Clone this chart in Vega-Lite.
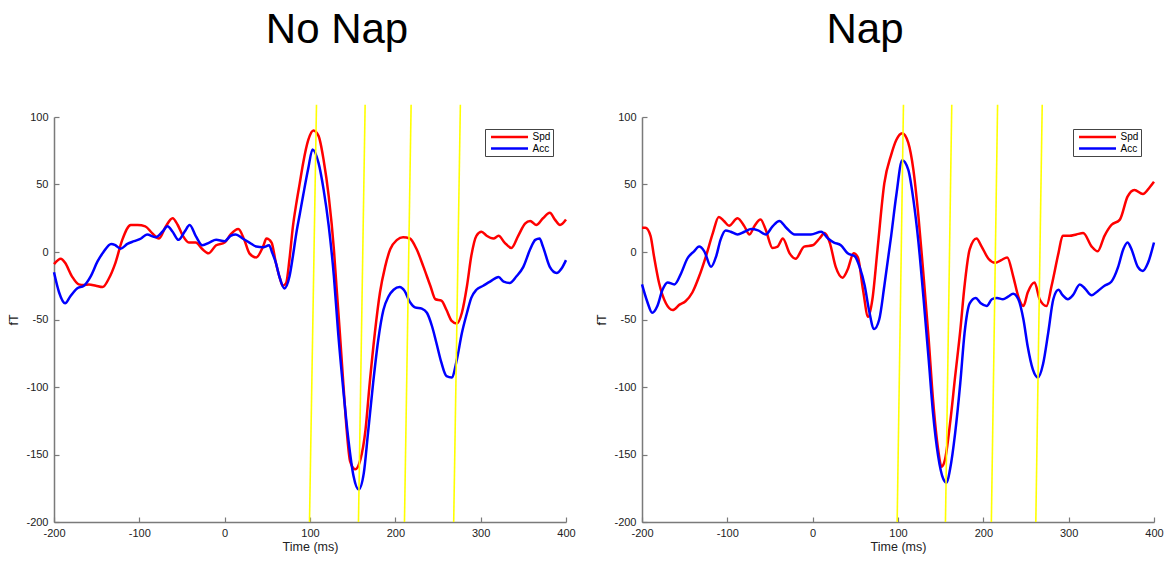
{
  "$schema": "https://vega.github.io/schema/vega-lite/v6.json",
  "padding": {"left": 7, "top": 9, "right": 5, "bottom": 5},
  "background": "white",
  "spacing": 19,
  "config": {
    "view": {"stroke": null},
    "font": "Liberation Sans",
    "axis": {
      "grid": false,
      "domainColor": "#7a7a7a",
      "domainWidth": 1.5,
      "tickColor": "#7a7a7a",
      "tickWidth": 1.2,
      "tickSize": -5,
      "labelFont": "Liberation Sans",
      "labelFontSize": 11,
      "labelColor": "#222222",
      "titleFont": "Liberation Sans",
      "titleFontSize": 12.5,
      "titleFontWeight": "normal",
      "titleColor": "#222222",
      "labelFlush": false,
      "labelOverlap": false
    },
    "axisX": {"labelPadding": 10, "titlePadding": 2},
    "axisY": {"labelPadding": 11, "titlePadding": 5},
    "title": {"font": "Liberation Sans", "fontSize": 42, "fontWeight": "normal", "color": "#000000"}
  },
  "resolve": {"scale": {"color": "independent"}, "legend": {"color": "independent"}},
  "datasets": {
    "curves": [
      {"panel":"L","series":"Spd","t":-200,"v":-9},{"panel":"L","series":"Spd","t":-192,"v":-5},{"panel":"L","series":"Spd","t":-187,"v":-8},{"panel":"L","series":"Spd","t":-179,"v":-18},{"panel":"L","series":"Spd","t":-171,"v":-24},{"panel":"L","series":"Spd","t":-165,"v":-24.5},{"panel":"L","series":"Spd","t":-159,"v":-24},{"panel":"L","series":"Spd","t":-151,"v":-25},{"panel":"L","series":"Spd","t":-143,"v":-26},{"panel":"L","series":"Spd","t":-136,"v":-20},{"panel":"L","series":"Spd","t":-128,"v":-8},{"panel":"L","series":"Spd","t":-120,"v":9},{"panel":"L","series":"Spd","t":-110,"v":20},{"panel":"L","series":"Spd","t":-102,"v":20},{"panel":"L","series":"Spd","t":-93,"v":19},{"panel":"L","series":"Spd","t":-85,"v":14},{"panel":"L","series":"Spd","t":-77,"v":10},{"panel":"L","series":"Spd","t":-69,"v":19},{"panel":"L","series":"Spd","t":-61,"v":25},{"panel":"L","series":"Spd","t":-55,"v":20},{"panel":"L","series":"Spd","t":-49,"v":12},{"panel":"L","series":"Spd","t":-42,"v":7},{"panel":"L","series":"Spd","t":-34,"v":7},{"panel":"L","series":"Spd","t":-26,"v":2},{"panel":"L","series":"Spd","t":-19,"v":-1},{"panel":"L","series":"Spd","t":-10,"v":5},{"panel":"L","series":"Spd","t":0,"v":7},{"panel":"L","series":"Spd","t":7,"v":13},{"panel":"L","series":"Spd","t":16,"v":17},{"panel":"L","series":"Spd","t":23,"v":9},{"panel":"L","series":"Spd","t":29,"v":-1},{"panel":"L","series":"Spd","t":37,"v":-4},{"panel":"L","series":"Spd","t":45,"v":4},{"panel":"L","series":"Spd","t":49,"v":10},{"panel":"L","series":"Spd","t":55,"v":7},{"panel":"L","series":"Spd","t":60,"v":-8},{"panel":"L","series":"Spd","t":65,"v":-20},{"panel":"L","series":"Spd","t":68,"v":-25},{"panel":"L","series":"Spd","t":72,"v":-23},{"panel":"L","series":"Spd","t":76,"v":-5},{"panel":"L","series":"Spd","t":80,"v":19},{"panel":"L","series":"Spd","t":84,"v":36},{"panel":"L","series":"Spd","t":88,"v":51},{"panel":"L","series":"Spd","t":92,"v":66},{"panel":"L","series":"Spd","t":98,"v":83},{"panel":"L","series":"Spd","t":104,"v":90},{"panel":"L","series":"Spd","t":110,"v":86},{"panel":"L","series":"Spd","t":116,"v":68},{"panel":"L","series":"Spd","t":122,"v":41},{"panel":"L","series":"Spd","t":128,"v":2},{"panel":"L","series":"Spd","t":131,"v":-25},{"panel":"L","series":"Spd","t":135,"v":-60},{"panel":"L","series":"Spd","t":139,"v":-97},{"panel":"L","series":"Spd","t":143,"v":-132},{"panel":"L","series":"Spd","t":147,"v":-155},{"panel":"L","series":"Spd","t":153,"v":-161},{"panel":"L","series":"Spd","t":159,"v":-154},{"panel":"L","series":"Spd","t":165,"v":-132},{"panel":"L","series":"Spd","t":170,"v":-97},{"panel":"L","series":"Spd","t":176,"v":-60},{"panel":"L","series":"Spd","t":182,"v":-30},{"panel":"L","series":"Spd","t":188,"v":-11},{"panel":"L","series":"Spd","t":194,"v":2},{"panel":"L","series":"Spd","t":202,"v":9},{"panel":"L","series":"Spd","t":209,"v":11},{"panel":"L","series":"Spd","t":217,"v":10},{"panel":"L","series":"Spd","t":225,"v":2},{"panel":"L","series":"Spd","t":233,"v":-11},{"panel":"L","series":"Spd","t":241,"v":-25},{"panel":"L","series":"Spd","t":247,"v":-35},{"panel":"L","series":"Spd","t":254,"v":-36},{"panel":"L","series":"Spd","t":260,"v":-43},{"panel":"L","series":"Spd","t":266,"v":-51},{"panel":"L","series":"Spd","t":272,"v":-53},{"panel":"L","series":"Spd","t":278,"v":-45},{"panel":"L","series":"Spd","t":284,"v":-25},{"panel":"L","series":"Spd","t":289,"v":-3},{"panel":"L","series":"Spd","t":295,"v":12},{"panel":"L","series":"Spd","t":301,"v":15},{"panel":"L","series":"Spd","t":307,"v":12},{"panel":"L","series":"Spd","t":315,"v":10},{"panel":"L","series":"Spd","t":321,"v":12},{"panel":"L","series":"Spd","t":328,"v":7},{"panel":"L","series":"Spd","t":336,"v":3},{"panel":"L","series":"Spd","t":344,"v":12},{"panel":"L","series":"Spd","t":352,"v":21},{"panel":"L","series":"Spd","t":358,"v":23},{"panel":"L","series":"Spd","t":365,"v":20},{"panel":"L","series":"Spd","t":373,"v":25},{"panel":"L","series":"Spd","t":381,"v":29},{"panel":"L","series":"Spd","t":387,"v":24},{"panel":"L","series":"Spd","t":393,"v":20},{"panel":"L","series":"Spd","t":400,"v":24},
      {"panel":"L","series":"Acc","t":-200,"v":-15},{"panel":"L","series":"Acc","t":-194,"v":-30},{"panel":"L","series":"Acc","t":-187,"v":-38},{"panel":"L","series":"Acc","t":-181,"v":-33},{"panel":"L","series":"Acc","t":-173,"v":-27},{"panel":"L","series":"Acc","t":-165,"v":-25},{"panel":"L","series":"Acc","t":-157,"v":-18},{"panel":"L","series":"Acc","t":-149,"v":-7},{"panel":"L","series":"Acc","t":-142,"v":0},{"panel":"L","series":"Acc","t":-133,"v":6},{"panel":"L","series":"Acc","t":-128,"v":5},{"panel":"L","series":"Acc","t":-122,"v":2.5},{"panel":"L","series":"Acc","t":-114,"v":6},{"panel":"L","series":"Acc","t":-106,"v":8},{"panel":"L","series":"Acc","t":-98,"v":10},{"panel":"L","series":"Acc","t":-91,"v":13},{"panel":"L","series":"Acc","t":-81,"v":11},{"panel":"L","series":"Acc","t":-73,"v":15},{"panel":"L","series":"Acc","t":-67,"v":19},{"panel":"L","series":"Acc","t":-61,"v":15},{"panel":"L","series":"Acc","t":-54,"v":9},{"panel":"L","series":"Acc","t":-47,"v":15},{"panel":"L","series":"Acc","t":-41,"v":20},{"panel":"L","series":"Acc","t":-34,"v":12},{"panel":"L","series":"Acc","t":-26,"v":5},{"panel":"L","series":"Acc","t":-18,"v":7},{"panel":"L","series":"Acc","t":-10,"v":9},{"panel":"L","series":"Acc","t":0,"v":8},{"panel":"L","series":"Acc","t":7,"v":12},{"panel":"L","series":"Acc","t":13,"v":13},{"panel":"L","series":"Acc","t":21,"v":10},{"panel":"L","series":"Acc","t":29,"v":7},{"panel":"L","series":"Acc","t":37,"v":4},{"panel":"L","series":"Acc","t":45,"v":3.5},{"panel":"L","series":"Acc","t":52,"v":5},{"panel":"L","series":"Acc","t":56,"v":-1},{"panel":"L","series":"Acc","t":60,"v":-8},{"panel":"L","series":"Acc","t":64,"v":-18},{"panel":"L","series":"Acc","t":70,"v":-27},{"panel":"L","series":"Acc","t":76,"v":-18},{"panel":"L","series":"Acc","t":80,"v":-3},{"panel":"L","series":"Acc","t":84,"v":14},{"panel":"L","series":"Acc","t":88,"v":28},{"panel":"L","series":"Acc","t":92,"v":42},{"panel":"L","series":"Acc","t":98,"v":62},{"panel":"L","series":"Acc","t":103,"v":76},{"panel":"L","series":"Acc","t":110,"v":66},{"panel":"L","series":"Acc","t":116,"v":46},{"panel":"L","series":"Acc","t":122,"v":19},{"panel":"L","series":"Acc","t":128,"v":-18},{"panel":"L","series":"Acc","t":133,"v":-60},{"panel":"L","series":"Acc","t":139,"v":-102},{"panel":"L","series":"Acc","t":145,"v":-139},{"panel":"L","series":"Acc","t":151,"v":-166},{"panel":"L","series":"Acc","t":157,"v":-176},{"panel":"L","series":"Acc","t":163,"v":-164},{"panel":"L","series":"Acc","t":168,"v":-134},{"panel":"L","series":"Acc","t":174,"v":-97},{"panel":"L","series":"Acc","t":180,"v":-65},{"panel":"L","series":"Acc","t":186,"v":-43},{"panel":"L","series":"Acc","t":192,"v":-33},{"panel":"L","series":"Acc","t":198,"v":-28},{"panel":"L","series":"Acc","t":205,"v":-26},{"panel":"L","series":"Acc","t":211,"v":-29},{"panel":"L","series":"Acc","t":217,"v":-37},{"panel":"L","series":"Acc","t":223,"v":-41},{"panel":"L","series":"Acc","t":231,"v":-42},{"panel":"L","series":"Acc","t":237,"v":-45},{"panel":"L","series":"Acc","t":243,"v":-55},{"panel":"L","series":"Acc","t":248,"v":-67},{"panel":"L","series":"Acc","t":254,"v":-82},{"panel":"L","series":"Acc","t":260,"v":-92},{"panel":"L","series":"Acc","t":266,"v":-93},{"panel":"L","series":"Acc","t":272,"v":-80},{"panel":"L","series":"Acc","t":278,"v":-60},{"panel":"L","series":"Acc","t":284,"v":-45},{"panel":"L","series":"Acc","t":289,"v":-34},{"panel":"L","series":"Acc","t":295,"v":-28},{"panel":"L","series":"Acc","t":303,"v":-25},{"panel":"L","series":"Acc","t":311,"v":-22},{"panel":"L","series":"Acc","t":321,"v":-18.5},{"panel":"L","series":"Acc","t":327,"v":-22},{"panel":"L","series":"Acc","t":334,"v":-23},{"panel":"L","series":"Acc","t":342,"v":-18},{"panel":"L","series":"Acc","t":350,"v":-11},{"panel":"L","series":"Acc","t":358,"v":2},{"panel":"L","series":"Acc","t":364,"v":9},{"panel":"L","series":"Acc","t":369,"v":10},{"panel":"L","series":"Acc","t":373,"v":4},{"panel":"L","series":"Acc","t":381,"v":-11},{"panel":"L","series":"Acc","t":389,"v":-15.5},{"panel":"L","series":"Acc","t":395,"v":-12},{"panel":"L","series":"Acc","t":400,"v":-6},
      {"panel":"R","series":"Spd","t":-200,"v":18},{"panel":"R","series":"Spd","t":-196,"v":18},{"panel":"R","series":"Spd","t":-190,"v":12},{"panel":"R","series":"Spd","t":-186,"v":-3},{"panel":"R","series":"Spd","t":-180,"v":-23},{"panel":"R","series":"Spd","t":-172,"v":-38},{"panel":"R","series":"Spd","t":-164,"v":-43},{"panel":"R","series":"Spd","t":-156,"v":-39},{"panel":"R","series":"Spd","t":-149,"v":-36.5},{"panel":"R","series":"Spd","t":-141,"v":-30},{"panel":"R","series":"Spd","t":-133,"v":-18},{"panel":"R","series":"Spd","t":-125,"v":-3},{"panel":"R","series":"Spd","t":-117,"v":14},{"panel":"R","series":"Spd","t":-110,"v":26},{"panel":"R","series":"Spd","t":-104,"v":23},{"panel":"R","series":"Spd","t":-98,"v":19.5},{"panel":"R","series":"Spd","t":-88,"v":25},{"panel":"R","series":"Spd","t":-80,"v":19},{"panel":"R","series":"Spd","t":-74,"v":13},{"panel":"R","series":"Spd","t":-68,"v":19.5},{"panel":"R","series":"Spd","t":-61,"v":24},{"panel":"R","series":"Spd","t":-55,"v":16.5},{"panel":"R","series":"Spd","t":-47,"v":3},{"panel":"R","series":"Spd","t":-41,"v":4},{"panel":"R","series":"Spd","t":-35,"v":10},{"panel":"R","series":"Spd","t":-27,"v":-1},{"panel":"R","series":"Spd","t":-20,"v":-5},{"panel":"R","series":"Spd","t":-10,"v":4},{"panel":"R","series":"Spd","t":0,"v":5},{"panel":"R","series":"Spd","t":8,"v":10},{"panel":"R","series":"Spd","t":14,"v":14},{"panel":"R","series":"Spd","t":20,"v":7},{"panel":"R","series":"Spd","t":27,"v":-11},{"panel":"R","series":"Spd","t":35,"v":-19},{"panel":"R","series":"Spd","t":41,"v":-13},{"panel":"R","series":"Spd","t":48,"v":-1},{"panel":"R","series":"Spd","t":53,"v":-4},{"panel":"R","series":"Spd","t":59,"v":-28},{"panel":"R","series":"Spd","t":65,"v":-48},{"panel":"R","series":"Spd","t":70,"v":-35},{"panel":"R","series":"Spd","t":76,"v":2},{"panel":"R","series":"Spd","t":84,"v":51},{"panel":"R","series":"Spd","t":92,"v":72},{"panel":"R","series":"Spd","t":98,"v":83},{"panel":"R","series":"Spd","t":105,"v":88},{"panel":"R","series":"Spd","t":112,"v":81},{"panel":"R","series":"Spd","t":118,"v":61},{"panel":"R","series":"Spd","t":124,"v":26},{"panel":"R","series":"Spd","t":130,"v":-18},{"panel":"R","series":"Spd","t":136,"v":-65},{"panel":"R","series":"Spd","t":141,"v":-109},{"panel":"R","series":"Spd","t":147,"v":-146},{"panel":"R","series":"Spd","t":151,"v":-159},{"panel":"R","series":"Spd","t":155,"v":-154},{"panel":"R","series":"Spd","t":161,"v":-127},{"panel":"R","series":"Spd","t":167,"v":-92},{"panel":"R","series":"Spd","t":173,"v":-58},{"panel":"R","series":"Spd","t":178,"v":-25},{"panel":"R","series":"Spd","t":184,"v":2},{"panel":"R","series":"Spd","t":192,"v":10},{"panel":"R","series":"Spd","t":198,"v":4},{"panel":"R","series":"Spd","t":206,"v":-5},{"panel":"R","series":"Spd","t":214,"v":-8},{"panel":"R","series":"Spd","t":221,"v":-6},{"panel":"R","series":"Spd","t":228,"v":-4},{"panel":"R","series":"Spd","t":235,"v":-18},{"panel":"R","series":"Spd","t":241,"v":-33},{"panel":"R","series":"Spd","t":247,"v":-40},{"panel":"R","series":"Spd","t":252,"v":-30},{"panel":"R","series":"Spd","t":260,"v":-22.5},{"panel":"R","series":"Spd","t":266,"v":-35},{"panel":"R","series":"Spd","t":274,"v":-40},{"panel":"R","series":"Spd","t":280,"v":-25},{"panel":"R","series":"Spd","t":288,"v":-1},{"panel":"R","series":"Spd","t":293,"v":12},{"panel":"R","series":"Spd","t":301,"v":12},{"panel":"R","series":"Spd","t":309,"v":13},{"panel":"R","series":"Spd","t":317,"v":14},{"panel":"R","series":"Spd","t":327,"v":4},{"panel":"R","series":"Spd","t":334,"v":0.5},{"panel":"R","series":"Spd","t":342,"v":12},{"panel":"R","series":"Spd","t":350,"v":20},{"panel":"R","series":"Spd","t":360,"v":24},{"panel":"R","series":"Spd","t":369,"v":41},{"panel":"R","series":"Spd","t":377,"v":46},{"panel":"R","series":"Spd","t":387,"v":43},{"panel":"R","series":"Spd","t":395,"v":48},{"panel":"R","series":"Spd","t":400,"v":52},
      {"panel":"R","series":"Acc","t":-200,"v":-24},{"panel":"R","series":"Acc","t":-194,"v":-36.5},{"panel":"R","series":"Acc","t":-188,"v":-45},{"panel":"R","series":"Acc","t":-182,"v":-40},{"panel":"R","series":"Acc","t":-176,"v":-28},{"panel":"R","series":"Acc","t":-170,"v":-22.5},{"panel":"R","series":"Acc","t":-162,"v":-24},{"panel":"R","series":"Acc","t":-154,"v":-15.5},{"panel":"R","series":"Acc","t":-147,"v":-5},{"panel":"R","series":"Acc","t":-139,"v":0.5},{"panel":"R","series":"Acc","t":-133,"v":4},{"panel":"R","series":"Acc","t":-127,"v":0.5},{"panel":"R","series":"Acc","t":-119,"v":-11},{"panel":"R","series":"Acc","t":-113,"v":-3},{"panel":"R","series":"Acc","t":-108,"v":9},{"panel":"R","series":"Acc","t":-102,"v":16},{"panel":"R","series":"Acc","t":-96,"v":15},{"panel":"R","series":"Acc","t":-88,"v":13},{"panel":"R","series":"Acc","t":-80,"v":15},{"panel":"R","series":"Acc","t":-72,"v":17},{"panel":"R","series":"Acc","t":-64,"v":16},{"panel":"R","series":"Acc","t":-55,"v":13},{"panel":"R","series":"Acc","t":-47,"v":19},{"panel":"R","series":"Acc","t":-39,"v":23},{"panel":"R","series":"Acc","t":-31,"v":18},{"panel":"R","series":"Acc","t":-21,"v":13},{"panel":"R","series":"Acc","t":-12,"v":13},{"panel":"R","series":"Acc","t":-2,"v":13},{"panel":"R","series":"Acc","t":10,"v":15},{"panel":"R","series":"Acc","t":18,"v":10},{"panel":"R","series":"Acc","t":25,"v":7},{"panel":"R","series":"Acc","t":33,"v":5},{"panel":"R","series":"Acc","t":41,"v":-1},{"panel":"R","series":"Acc","t":49,"v":-3},{"panel":"R","series":"Acc","t":55,"v":-11},{"panel":"R","series":"Acc","t":61,"v":-25},{"panel":"R","series":"Acc","t":66,"v":-43},{"panel":"R","series":"Acc","t":72,"v":-57},{"panel":"R","series":"Acc","t":78,"v":-50},{"panel":"R","series":"Acc","t":84,"v":-25},{"panel":"R","series":"Acc","t":92,"v":12},{"panel":"R","series":"Acc","t":98,"v":42},{"panel":"R","series":"Acc","t":105,"v":68},{"panel":"R","series":"Acc","t":112,"v":61},{"panel":"R","series":"Acc","t":118,"v":39},{"panel":"R","series":"Acc","t":124,"v":7},{"panel":"R","series":"Acc","t":130,"v":-35},{"panel":"R","series":"Acc","t":136,"v":-80},{"panel":"R","series":"Acc","t":141,"v":-119},{"panel":"R","series":"Acc","t":147,"v":-151},{"panel":"R","series":"Acc","t":153,"v":-168},{"panel":"R","series":"Acc","t":157,"v":-171},{"panel":"R","series":"Acc","t":161,"v":-161},{"panel":"R","series":"Acc","t":167,"v":-134},{"panel":"R","series":"Acc","t":173,"v":-97},{"panel":"R","series":"Acc","t":178,"v":-60},{"panel":"R","series":"Acc","t":184,"v":-38},{"panel":"R","series":"Acc","t":191,"v":-34},{"panel":"R","series":"Acc","t":197,"v":-38},{"panel":"R","series":"Acc","t":204,"v":-40},{"panel":"R","series":"Acc","t":210,"v":-35},{"panel":"R","series":"Acc","t":216,"v":-34},{"panel":"R","series":"Acc","t":223,"v":-35},{"panel":"R","series":"Acc","t":229,"v":-33},{"panel":"R","series":"Acc","t":235,"v":-31},{"panel":"R","series":"Acc","t":241,"v":-35},{"panel":"R","series":"Acc","t":247,"v":-50},{"panel":"R","series":"Acc","t":252,"v":-70},{"panel":"R","series":"Acc","t":258,"v":-87},{"panel":"R","series":"Acc","t":264,"v":-93},{"panel":"R","series":"Acc","t":270,"v":-83},{"panel":"R","series":"Acc","t":276,"v":-60},{"panel":"R","series":"Acc","t":282,"v":-35},{"panel":"R","series":"Acc","t":288,"v":-28},{"panel":"R","series":"Acc","t":293,"v":-32},{"panel":"R","series":"Acc","t":299,"v":-35},{"panel":"R","series":"Acc","t":305,"v":-32},{"panel":"R","series":"Acc","t":313,"v":-24},{"panel":"R","series":"Acc","t":319,"v":-27},{"panel":"R","series":"Acc","t":327,"v":-32},{"panel":"R","series":"Acc","t":334,"v":-29},{"panel":"R","series":"Acc","t":342,"v":-25},{"panel":"R","series":"Acc","t":350,"v":-22},{"panel":"R","series":"Acc","t":358,"v":-11},{"panel":"R","series":"Acc","t":364,"v":2},{"panel":"R","series":"Acc","t":369,"v":7},{"panel":"R","series":"Acc","t":373,"v":3},{"panel":"R","series":"Acc","t":381,"v":-11},{"panel":"R","series":"Acc","t":387,"v":-14},{"panel":"R","series":"Acc","t":393,"v":-8},{"panel":"R","series":"Acc","t":400,"v":7}
    ],
    "yellow": [
      {"panel":"L","t0":99.4,"t1":107.6,"v0":-200,"v1":109},
      {"panel":"L","t0":156.8,"t1":164.6,"v0":-200,"v1":109},
      {"panel":"L","t0":210.7,"t1":218.5,"v0":-200,"v1":109},
      {"panel":"L","t0":268.4,"t1":276.2,"v0":-200,"v1":109},
      {"panel":"R","t0":99,"t1":106.4,"v0":-200,"v1":109},
      {"panel":"R","t0":155.6,"t1":163,"v0":-200,"v1":109},
      {"panel":"R","t0":209.4,"t1":216.7,"v0":-200,"v1":109},
      {"panel":"R","t0":261.5,"t1":269,"v0":-200,"v1":109}
    ]
  },
  "hconcat": [
    {
      "width": 512,
      "height": 405,
      "title": {"text": "No Nap", "frame": "group", "anchor": "middle", "dx": 27, "offset": 52},
      "layer": [
        {
          "data": {"name": "curves"},
          "transform": [{"filter": "datum.panel === 'L'"}],
          "mark": {"type": "line", "interpolate": "monotone", "strokeWidth": 2.5},
          "encoding": {
            "x": {"field": "t", "type": "quantitative", "title": "Time (ms)", "scale": {"domain": [-200, 400], "nice": false, "zero": false}, "axis": {"values": [-200, -100, 0, 100, 200, 300, 400], "labelExpr": "datum.value < 0 ? '-' + abs(datum.value) : '' + datum.value"}},
            "y": {"field": "v", "type": "quantitative", "title": "fT", "scale": {"domain": [-200, 100], "nice": false, "zero": false}, "axis": {"values": [-200, -150, -100, -50, 0, 50, 100], "labelExpr": "datum.value < 0 ? '-' + abs(datum.value) : '' + datum.value"}},
            "color": {"field": "series", "type": "nominal", "scale": {"domain": ["Spd", "Acc"], "range": ["#ff0000", "#0000ff"]},
              "legend": {"orient": "none", "legendX": 431, "legendY": 12, "title": null, "symbolType": "M-0.44,0H7.78", "symbolSize": 81, "symbolStrokeWidth": 2.5, "labelOffset": 33.5, "labelFontSize": 10, "labelFont": "Liberation Sans", "labelColor": "#000000", "padding": 2, "strokeColor": "#444444", "fillColor": "#ffffff", "rowPadding": 0.6}}
          }
        },
        {
          "data": {"name": "yellow"},
          "transform": [{"filter": "datum.panel === 'L'"}],
          "mark": {"type": "rule", "color": "#ffff00", "strokeWidth": 1.6},
          "encoding": {
            "x": {"field": "t0", "type": "quantitative", "title": "Time (ms)"},
            "x2": {"field": "t1"},
            "y": {"field": "v0", "type": "quantitative", "title": "fT"},
            "y2": {"field": "v1"}
          }
        }
      ]
    },
    {
      "width": 512,
      "height": 405,
      "title": {"text": "Nap", "frame": "group", "anchor": "middle", "dx": -33, "offset": 52},
      "layer": [
        {
          "data": {"name": "curves"},
          "transform": [{"filter": "datum.panel === 'R'"}],
          "mark": {"type": "line", "interpolate": "monotone", "strokeWidth": 2.5},
          "encoding": {
            "x": {"field": "t", "type": "quantitative", "title": "Time (ms)", "scale": {"domain": [-200, 400], "nice": false, "zero": false}, "axis": {"values": [-200, -100, 0, 100, 200, 300, 400], "labelExpr": "datum.value < 0 ? '-' + abs(datum.value) : '' + datum.value"}},
            "y": {"field": "v", "type": "quantitative", "title": "fT", "scale": {"domain": [-200, 100], "nice": false, "zero": false}, "axis": {"values": [-200, -150, -100, -50, 0, 50, 100], "labelExpr": "datum.value < 0 ? '-' + abs(datum.value) : '' + datum.value"}},
            "color": {"field": "series", "type": "nominal", "scale": {"domain": ["Spd", "Acc"], "range": ["#ff0000", "#0000ff"]},
              "legend": {"orient": "none", "legendX": 431, "legendY": 12, "title": null, "symbolType": "M-0.44,0H7.78", "symbolSize": 81, "symbolStrokeWidth": 2.5, "labelOffset": 33.5, "labelFontSize": 10, "labelFont": "Liberation Sans", "labelColor": "#000000", "padding": 2, "strokeColor": "#444444", "fillColor": "#ffffff", "rowPadding": 0.6}}
          }
        },
        {
          "data": {"name": "yellow"},
          "transform": [{"filter": "datum.panel === 'R'"}],
          "mark": {"type": "rule", "color": "#ffff00", "strokeWidth": 1.6},
          "encoding": {
            "x": {"field": "t0", "type": "quantitative", "title": "Time (ms)"},
            "x2": {"field": "t1"},
            "y": {"field": "v0", "type": "quantitative", "title": "fT"},
            "y2": {"field": "v1"}
          }
        }
      ]
    }
  ]
}
